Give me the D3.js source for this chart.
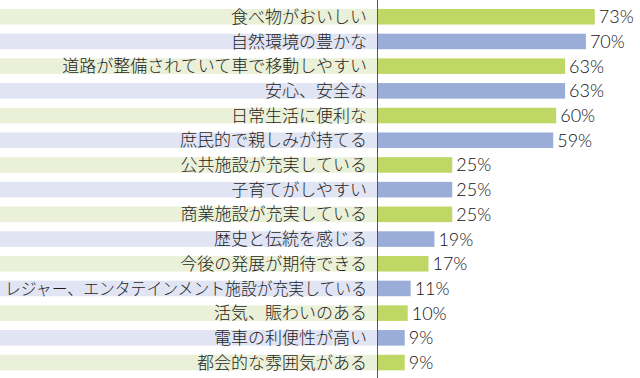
<!DOCTYPE html>
<html lang="ja">
<head>
<meta charset="UTF-8">
<title>bar chart</title>
<style>
  body, html { margin: 0; padding: 0; background: #fff; }
  svg { display: block; }
  .cat { font-family: "Noto Sans CJK JP", sans-serif; font-size: 17px; font-weight: 300; fill: #1e1e1e; }
  .val { font-family: Lato, "DejaVu Sans", sans-serif; font-size: 18px; font-weight: 300; fill: #111; }
</style>
</head>
<body>
<svg id="svg" width="640" height="378"></svg>
<script src="https://cdn.jsdelivr.net/npm/d3@7"></script>
<script>
const categories = [
  '食べ物がおいしい',
  '自然環境の豊かな',
  '道路が整備されていて車で移動しやすい',
  '安心、安全な',
  '日常生活に便利な',
  '庶民的で親しみが持てる',
  '公共施設が充実している',
  '子育てがしやすい',
  '商業施設が充実している',
  '歴史と伝統を感じる',
  '今後の発展が期待できる',
  'レジャー、エンタテインメント施設が充実している',
  '活気、賑わいのある',
  '電車の利便性が高い',
  '都会的な雰囲気がある'
]
const values = [73, 70, 63, 63, 60, 59, 25, 25, 25, 19, 17, 11, 10, 9, 9]

const bandColors = ['#ebf1d8', '#e0e4f3']
const barColors = ['#bfd865', '#9aacd8']

const axisX = 377.5
const barX = 378
const labelRight = 367
const labelMaxW = 362

const svg = d3.select('#svg')

const y = d3.scaleBand()
  .domain(categories)
  .range([4.4, 374.9])
  .paddingInner(0.37)
  .paddingOuter(0.185)

const x = d3.scaleLinear()
  .domain([0, 100])
  .range([barX, barX + 297])

const rows = categories.map((c, i) => ({ c, v: values[i], i }))

// label background bands
svg.append('g')
  .selectAll('rect')
  .data(rows)
  .enter()
  .append('rect')
  .attr('x', 0)
  .attr('y', d => y(d.c))
  .attr('width', axisX)
  .attr('height', y.bandwidth())
  .attr('fill', d => bandColors[d.i % 2])

// bars
svg.append('g')
  .selectAll('rect')
  .data(rows)
  .enter()
  .append('rect')
  .attr('x', x(0))
  .attr('y', d => y(d.c))
  .attr('width', d => x(d.v) - x(0))
  .attr('height', y.bandwidth())
  .attr('fill', d => barColors[d.i % 2])

// category labels
svg.append('g')
  .selectAll('text')
  .data(rows)
  .enter()
  .append('text')
  .attr('class', 'cat')
  .attr('x', labelRight)
  .attr('y', d => y(d.c) + y.bandwidth() / 2)
  .attr('dy', '0.36em')
  .attr('text-anchor', 'end')
  .text(d => d.c)
  .each(function () {
    // squeeze labels that would run off the left edge
    const w = this.getComputedTextLength()
    if (w > labelMaxW) {
      d3.select(this)
        .attr('textLength', labelMaxW)
        .attr('lengthAdjust', 'spacingAndGlyphs')
    }
  })

// value labels
svg.append('g')
  .selectAll('text')
  .data(rows)
  .enter()
  .append('text')
  .attr('class', 'val')
  .attr('x', d => x(d.v) + 4)
  .attr('y', d => y(d.c) + y.bandwidth() / 2)
  .attr('dy', '0.36em')
  .text(d => d.v + '%')

// axis line
svg.append('line')
  .attr('x1', axisX).attr('x2', axisX)
  .attr('y1', 0).attr('y2', 378)
  .attr('stroke', '#555')
  .attr('stroke-width', 1)
</script>
</body>
</html>
